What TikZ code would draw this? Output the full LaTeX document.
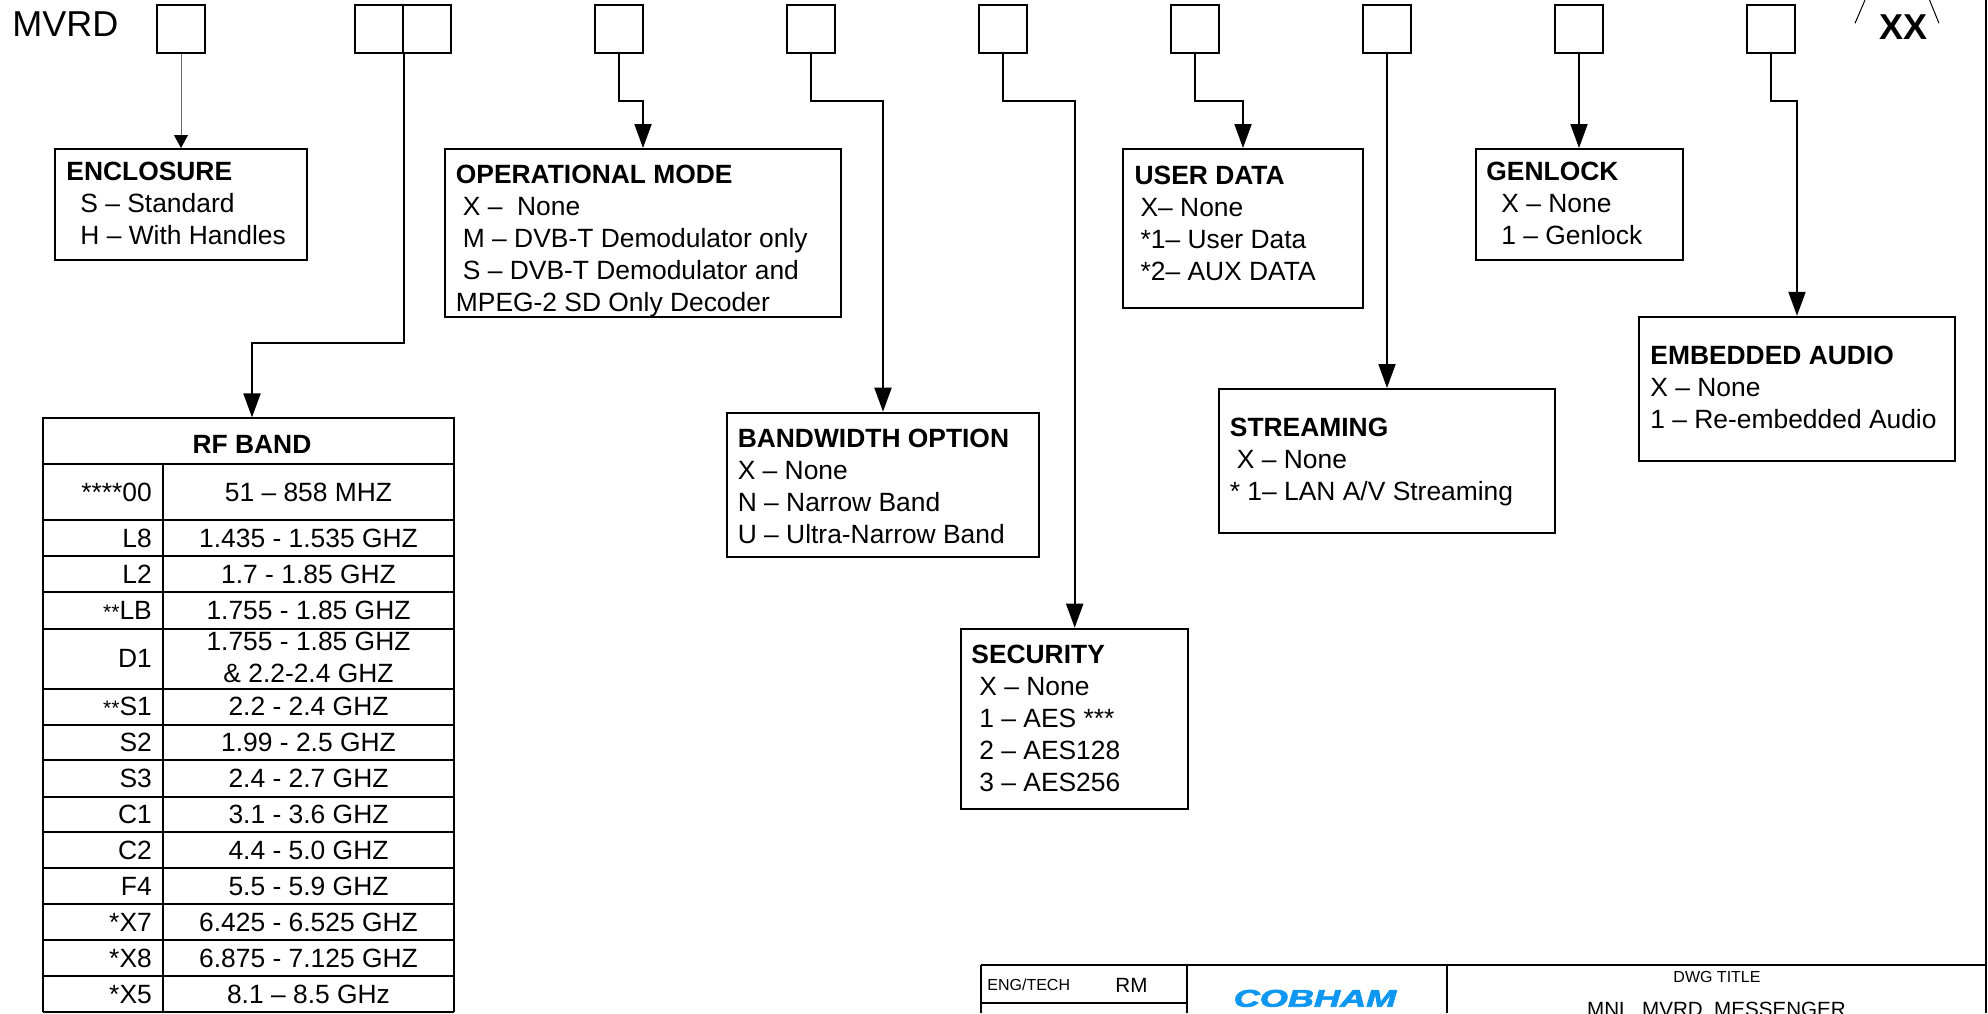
\documentclass[tikz,border=0pt]{standalone}
\usepackage{fontspec}
\setmainfont{Liberation Sans}
\newfontfamily\logofont[BoldItalicFeatures={FakeBold=2.5}]{Liberation Sans}
\usetikzlibrary{arrows.meta}
\definecolor{logoblue}{HTML}{0E97F0}
\newcommand{\smallstars}{{\fontsize{10.5}{12}\selectfont **}}
\tikzset{
  selectbox/.style={draw,line width=1pt,minimum width=24pt,minimum height=24pt,inner sep=0pt},
  optbox/.style={draw,line width=1pt,inner sep=0pt},
  opttext/.style={anchor=base west,align=left,inner sep=0pt,font=\fontsize{13.2}{16}\selectfont},
  cellcode/.style={anchor=base east,inner sep=0pt,font=\fontsize{13.2}{16}\selectfont},
  cellrange/.style={anchor=base,inner sep=0pt,font=\fontsize{13.2}{16}\selectfont},
  smalltext/.style={anchor=base,inner sep=0pt,font=\fontsize{8}{10}\selectfont},
  midtext/.style={anchor=base,inner sep=0pt,font=\fontsize{10.3}{12}\selectfont},
  link/.style={line width=1pt,-{Triangle[length=12pt,width=8.5pt]}},
  thinlink/.style={line width=0.5pt,draw=black!60,-{Triangle[length=6.5pt,width=7pt,black]}},
  rule/.style={line width=1pt},
}
\begin{document}
\begin{tikzpicture}[x=0.5pt,y=-0.5pt]
\useasboundingbox (0,0) rectangle (1988,1013);

% part number
\node[anchor=base west,inner sep=0pt,font=\fontsize{18}{20}\selectfont] (mvrd) at (12,36.7) {MVRD};
\node[selectbox] (selenc) at (181,28.7) {};
\node[selectbox] (selrfa) at (379,28.7) {};
\node[selectbox] (selrfb) at (427,28.7) {};
\node[selectbox] (selop) at (619,28.7) {};
\node[selectbox] (selbw) at (811,28.7) {};
\node[selectbox] (selsec) at (1003,28.7) {};
\node[selectbox] (seluser) at (1195,28.7) {};
\node[selectbox] (selstream) at (1387,28.7) {};
\node[selectbox] (selgen) at (1579,28.7) {};
\node[selectbox] (selaudio) at (1771,28.7) {};
\node[anchor=base west,inner sep=0pt,font=\fontsize{18}{20}\selectfont\bfseries] (suffix) at (1879,39.5) {XX};
\coordinate (sufla) at (1865,0);
\coordinate (suflb) at (1855,23.3);
\coordinate (sufra) at (1929.5,0);
\coordinate (sufrb) at (1939,23.3);
\draw[line width=0.5pt] (sufla)--(suflb);
\draw[line width=0.5pt] (sufra)--(sufrb);

% enclosure
\node[optbox,minimum width=126pt,minimum height=55.5pt] (enclosure) at (181,204.5) {};
\node[opttext] (enclosuretext) at (66,244.3) {\textbf{ENCLOSURE}\\\hspace{7pt}S – Standard\\\hspace{7pt}H – With Handles};
\draw[thinlink] (selenc.south)--(enclosure.north);

% operational mode
\node[optbox,minimum width=198pt,minimum height=84pt] (opmode) at (643,233) {};
\node[opttext] (opmodetext) at (455.5,311.7) {\textbf{OPERATIONAL MODE}\\\hspace{3.5pt}X –\ \ None\\\hspace{3.5pt}M – DVB-T Demodulator only\\\hspace{3.5pt}S – DVB-T Demodulator and\\MPEG-2 SD Only Decoder};
\draw[link] (selop.south)|-(opmode.north |- 0,100.5)--(opmode.north);

% user data
\node[optbox,minimum width=120pt,minimum height=79.5pt] (userdata) at (1243,228.5) {};
\node[opttext] (userdatatext) at (1134.2,280) {\textbf{USER DATA}\\\hspace{3pt}X– None\\\hspace{3pt}*1– User Data\\\hspace{3pt}*2– AUX DATA};
\draw[link] (seluser.south)|-(userdata.north |- 0,100.5)--(userdata.north);

% genlock
\node[optbox,minimum width=103.5pt,minimum height=55.5pt] (genlock) at (1579,204.5) {};
\node[opttext] (genlocktext) at (1486,244.3) {\textbf{GENLOCK}\\\hspace{7.5pt}X – None\\\hspace{7.5pt}1 – Genlock};
\draw[link] (selgen.south)--(genlock.north);

% embedded audio
\node[optbox,minimum width=158pt,minimum height=72pt] (audio) at (1797,388.8) {};
\node[opttext] (audiotext) at (1650,428.3) {\textbf{EMBEDDED AUDIO}\\X – None\\1 – Re-embedded Audio};
\draw[link] (selaudio.south)|-(audio.north |- 0,100.5)--(audio.north);

% streaming
\node[optbox,minimum width=168pt,minimum height=72pt] (streaming) at (1387,461) {};
\node[opttext] (streamingtext) at (1229.5,500.7) {\textbf{STREAMING}\\\hspace{3.5pt}X – None\\* 1– LAN A/V Streaming};
\draw[link] (selstream.south)--(streaming.north);

% bandwidth
\node[optbox,minimum width=156pt,minimum height=72pt] (bandwidth) at (883,484.7) {};
\node[opttext] (bandwidthtext) at (737.4,543.3) {\textbf{BANDWIDTH OPTION}\\X – None\\N – Narrow Band\\U – Ultra-Narrow Band};
\draw[link] (selbw.south)|-(bandwidth.north |- 0,100.5)--(bandwidth.north);

% security
\node[optbox,minimum width=113.5pt,minimum height=90.2pt] (security) at (1074.7,718.9) {};
\node[opttext] (securitytext) at (971,791.7) {\textbf{SECURITY}\\\hspace{4pt}X – None\\\hspace{4pt}1 – AES ***\\\hspace{4pt}2 – AES128\\\hspace{4pt}3 – AES256};
\draw[link] (selsec.south)|-(security.north |- 0,100.5)--(security.north);

% RF band
\node[optbox,minimum width=205.5pt,minimum height=22.6pt] (rfhead) at (248.7,441) {};
\node[anchor=base,inner sep=0pt,font=\fontsize{13.2}{16}\selectfont\bfseries] (rfheadtext) at (252,453) {RF BAND};
\coordinate (rfknee) at (252,343);
\draw[link] (selrfa.south east)|-(rfknee)--(rfknee |- rfhead.north);

% RF band, rows
\draw[rule] (43.3,463.7)--(43.3,1012.2);
\draw[rule] (454,463.7)--(454,1012.2);
\draw[rule] (163,463.7)--(163,1012.2);
\draw[rule] (43.3,520.4)--(454,520.4);
\draw[rule] (43.3,556.4)--(454,556.4);
\draw[rule] (43.3,592.3)--(454,592.3);
\draw[rule] (43.3,628.7)--(454,628.7);
\draw[rule] (43.3,688.5)--(454,688.5);
\draw[rule] (43.3,724.5)--(454,724.5);
\draw[rule] (43.3,760.4)--(454,760.4);
\draw[rule] (43.3,796.8)--(454,796.8);
\draw[rule] (43.3,832.4)--(454,832.4);
\draw[rule] (43.3,868.3)--(454,868.3);
\draw[rule] (43.3,904.3)--(454,904.3);
\draw[rule] (43.3,940.3)--(454,940.3);
\draw[rule] (43.3,976.2)--(454,976.2);
\draw[rule] (43.3,1012.2)--(454,1012.2);

\node[cellcode] (codea) at (152.2,501) {****00};
\node[cellrange] (rangea) at (308.5,501) {51 – 858 MHZ};
\node[cellcode] (codeb) at (152.2,547) {L8};
\node[cellrange] (rangeb) at (308.5,547) {1.435 - 1.535 GHZ};
\node[cellcode] (codec) at (152.2,583) {L2};
\node[cellrange] (rangec) at (308.5,583) {1.7 - 1.85 GHZ};
\node[cellcode] (coded) at (152.2,619) {\smallstars LB};
\node[cellrange] (ranged) at (308.5,619) {1.755 - 1.85 GHZ};
\node[cellcode] (codee) at (152.2,667) {D1};
\node[cellrange] (rangee) at (308.5,650) {1.755 - 1.85 GHZ};
\node[cellrange] (rangeee) at (308.5,682) {\& 2.2-2.4 GHZ};
\node[cellcode] (codef) at (152.2,715) {\smallstars S1};
\node[cellrange] (rangef) at (308.5,715) {2.2 - 2.4 GHZ};
\node[cellcode] (codeg) at (152.2,751) {S2};
\node[cellrange] (rangeg) at (308.5,751) {1.99 - 2.5 GHZ};
\node[cellcode] (codeh) at (152.2,787) {S3};
\node[cellrange] (rangeh) at (308.5,787) {2.4 - 2.7 GHZ};
\node[cellcode] (codei) at (152.2,823) {C1};
\node[cellrange] (rangei) at (308.5,823) {3.1 - 3.6 GHZ};
\node[cellcode] (codej) at (152.2,859) {C2};
\node[cellrange] (rangej) at (308.5,859) {4.4 - 5.0 GHZ};
\node[cellcode] (codek) at (152.2,895) {F4};
\node[cellrange] (rangek) at (308.5,895) {5.5 - 5.9 GHZ};
\node[cellcode] (codel) at (152.2,931) {*X7};
\node[cellrange] (rangel) at (308.5,931) {6.425 - 6.525 GHZ};
\node[cellcode] (codem) at (152.2,967) {*X8};
\node[cellrange] (rangem) at (308.5,967) {6.875 - 7.125 GHZ};
\node[cellcode] (coden) at (152.2,1003) {*X5};
\node[cellrange] (rangen) at (308.5,1003) {8.1 – 8.5 GHz};

% title block
\draw[line width=1.3pt] (981.4,965)--(1986,965);
\draw[rule] (1986,0)--(1986,1013);
\draw[rule] (981.4,965)--(981.4,1013);
\draw[rule] (1187,965)--(1187,1013);
\draw[rule] (1447,965)--(1447,1013);
\draw[line width=1.2pt] (981.4,1003)--(1187,1003);
\node[smalltext,anchor=base west] (engtech) at (987,990) {ENG/TECH};
\node[midtext,anchor=base west] (engname) at (1115,992.3) {RM};
\node[anchor=base,inner sep=0pt,text=logoblue,font=\logofont\fontsize{10.5}{12}\selectfont\bfseries\itshape] (logo) at (1315,1006.7) {\scalebox{1.72}[1.15]{COBHAM}};
\node[smalltext] (dwgtitle) at (1717,982.7) {DWG TITLE};
\node[midtext] (dwgname) at (1716.5,1016) {MNL\_MVRD\_MESSENGER};
\end{tikzpicture}
\end{document}
